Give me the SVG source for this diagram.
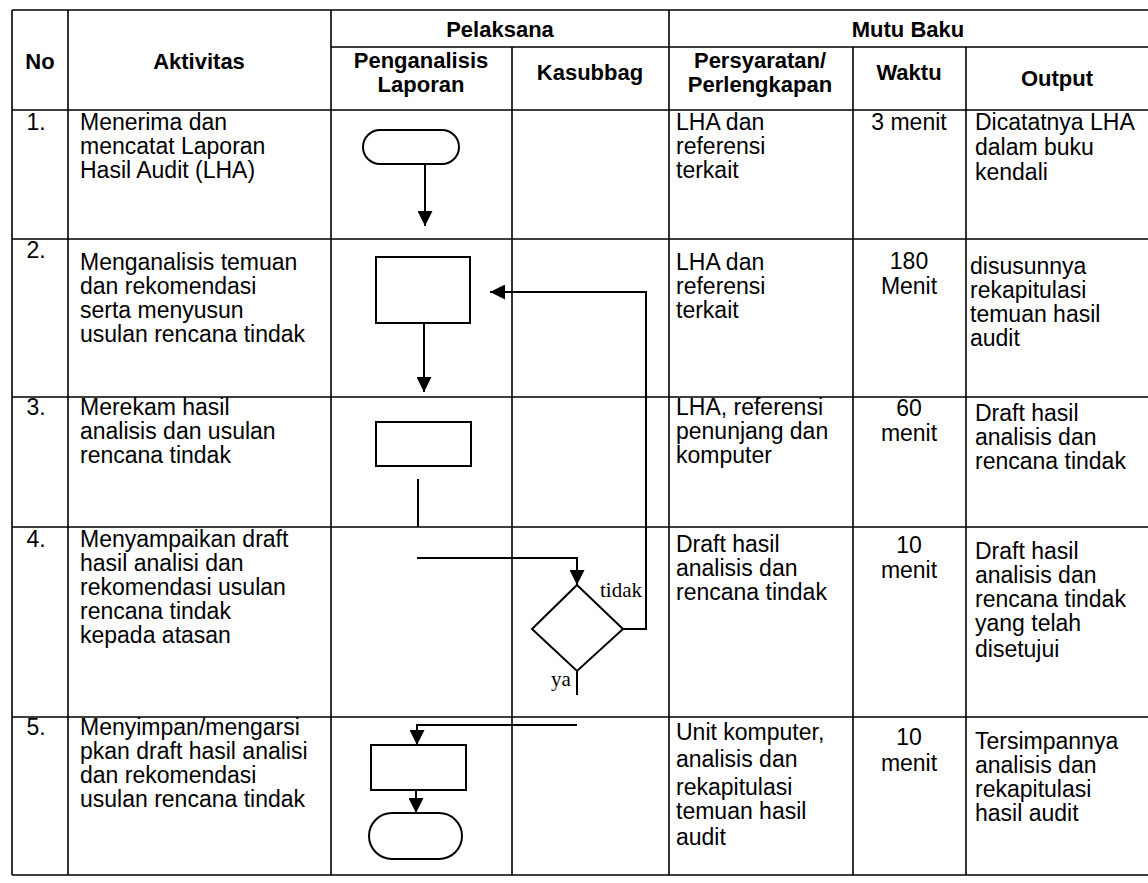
<svg xmlns="http://www.w3.org/2000/svg" width="1148" height="883" viewBox="0 0 1148 883">
<style>
.grid{stroke:#000;stroke-width:1.6;fill:none}
.shape{stroke:#000;stroke-width:2;fill:#fff}
.conn{stroke:#000;stroke-width:2;fill:none}
.h{font-family:"Liberation Sans",Arial,sans-serif;font-weight:bold;font-size:22px;fill:#000;text-anchor:middle}
.t{font-family:"Liberation Sans",Arial,sans-serif;font-size:23px;fill:#000}
.c{text-anchor:middle}
.s{font-family:"Liberation Serif","Times New Roman",serif;font-size:21px;fill:#000}
</style>
<defs>
<marker id="arr" viewBox="0 0 10 10" refX="10" refY="5" markerWidth="7.5" markerHeight="7.5" markerUnits="strokeWidth" orient="auto">
<path d="M0,0 L10,5 L0,10 Z" fill="#000"/>
</marker>
</defs>
<rect width="1148" height="883" fill="#fff"/>
<g id="table">
<path class="grid" d="M12,10 H1148 M331,47 H1148 M12,110 H1148 M12,239 H1148 M12,397 H1148 M12,527 H1148 M12,717 H1148 M12,875 H1148"/>
<path class="grid" d="M12,10 V875 M68,10 V875 M331,10 V875 M512,47 V875 M669,10 V875 M853,47 V875 M966,47 V875"/>
</g>
<g id="header">
<text class="h" x="40" y="69">No</text>
<text class="h" x="199" y="69">Aktivitas</text>
<text class="h" x="500" y="37">Pelaksana</text>
<text class="h" x="908" y="37">Mutu Baku</text>
<text class="h" x="421" y="68">Penganalisis</text>
<text class="h" x="421" y="92">Laporan</text>
<text class="h" x="590" y="80">Kasubbag</text>
<text class="h" x="760" y="68">Persyaratan/</text>
<text class="h" x="760" y="92">Perlengkapan</text>
<text class="h" x="909" y="80">Waktu</text>
<text class="h" x="1057" y="86">Output</text>
</g>
<g id="row1">
<text class="t c" x="36" y="130">1.</text>
<text class="t" x="80" y="130">Menerima dan</text>
<text class="t" x="80" y="154">mencatat Laporan</text>
<text class="t" x="80" y="178">Hasil Audit (LHA)</text>
<text class="t" x="676" y="130">LHA dan</text>
<text class="t" x="676" y="154">referensi</text>
<text class="t" x="676" y="178">terkait</text>
<text class="t c" x="909" y="130">3 menit</text>
<text class="t" x="975" y="130">Dicatatnya LHA</text>
<text class="t" x="975" y="155">dalam buku</text>
<text class="t" x="975" y="180">kendali</text>
</g>
<g id="row2">
<text class="t c" x="36" y="258">2.</text>
<text class="t" x="80" y="270">Menganalisis temuan</text>
<text class="t" x="80" y="294">dan rekomendasi</text>
<text class="t" x="80" y="318">serta menyusun</text>
<text class="t" x="80" y="342">usulan rencana tindak</text>
<text class="t" x="676" y="270">LHA dan</text>
<text class="t" x="676" y="294">referensi</text>
<text class="t" x="676" y="318">terkait</text>
<text class="t c" x="909" y="269">180</text>
<text class="t c" x="909" y="294">Menit</text>
<text class="t" x="970" y="274">disusunnya</text>
<text class="t" x="970" y="298">rekapitulasi</text>
<text class="t" x="970" y="322">temuan hasil</text>
<text class="t" x="970" y="346">audit</text>
</g>
<g id="row3">
<text class="t c" x="36" y="415">3.</text>
<text class="t" x="80" y="415">Merekam hasil</text>
<text class="t" x="80" y="439">analisis dan usulan</text>
<text class="t" x="80" y="463">rencana tindak</text>
<text class="t" x="676" y="415">LHA, referensi</text>
<text class="t" x="676" y="439">penunjang dan</text>
<text class="t" x="676" y="463">komputer</text>
<text class="t c" x="909" y="416">60</text>
<text class="t c" x="909" y="441">menit</text>
<text class="t" x="975" y="421">Draft hasil</text>
<text class="t" x="975" y="445">analisis dan</text>
<text class="t" x="975" y="469">rencana tindak</text>
</g>
<g id="row4">
<text class="t c" x="36" y="547">4.</text>
<text class="t" x="80" y="547">Menyampaikan draft</text>
<text class="t" x="80" y="571">hasil analisi dan</text>
<text class="t" x="80" y="595">rekomendasi usulan</text>
<text class="t" x="80" y="619">rencana tindak</text>
<text class="t" x="80" y="643">kepada atasan</text>
<text class="t" x="676" y="552">Draft hasil</text>
<text class="t" x="676" y="576">analisis dan</text>
<text class="t" x="676" y="600">rencana tindak</text>
<text class="t c" x="909" y="553">10</text>
<text class="t c" x="909" y="578">menit</text>
<text class="t" x="975" y="559">Draft hasil</text>
<text class="t" x="975" y="583">analisis dan</text>
<text class="t" x="975" y="607">rencana tindak</text>
<text class="t" x="975" y="631">yang telah</text>
<text class="t" x="975" y="657">disetujui</text>
</g>
<g id="row5">
<text class="t c" x="36" y="735">5.</text>
<text class="t" x="80" y="735">Menyimpan/mengarsi</text>
<text class="t" x="80" y="759">pkan draft hasil analisi</text>
<text class="t" x="80" y="783">dan rekomendasi</text>
<text class="t" x="80" y="807">usulan rencana tindak</text>
<text class="t" x="676" y="740">Unit komputer,</text>
<text class="t" x="676" y="767">analisis dan</text>
<text class="t" x="676" y="795">rekapitulasi</text>
<text class="t" x="676" y="819">temuan hasil</text>
<text class="t" x="676" y="845">audit</text>
<text class="t c" x="909" y="745">10</text>
<text class="t c" x="909" y="771">menit</text>
<text class="t" x="975" y="749">Tersimpannya</text>
<text class="t" x="975" y="773">analisis dan</text>
<text class="t" x="975" y="797">rekapitulasi</text>
<text class="t" x="975" y="821">hasil audit</text>
</g>
<g id="n1-start"><rect class="shape" x="363" y="130" width="96" height="34" rx="17"/></g>
<g id="n2-analyze"><rect class="shape" x="376" y="257" width="94" height="66"/></g>
<g id="n3-record"><rect class="shape" x="376" y="422" width="95" height="44"/></g>
<g id="n4-decision"><polygon class="shape" points="577,585 623,629 577,671 532,629"/>
<text class="s" x="600" y="597">tidak</text>
<text class="s" x="551" y="686">ya</text></g>
<g id="n5-store"><rect class="shape" x="371" y="745" width="95" height="45"/></g>
<g id="n6-end"><rect class="shape" x="369" y="813" width="93" height="46" rx="23"/></g>
<g id="connectors">
<path class="conn" d="M425,164 V226" marker-end="url(#arr)"/>
<path class="conn" d="M424,323 V392" marker-end="url(#arr)"/>
<path class="conn" d="M418,479 V527"/>
<path class="conn" d="M417,558 H577 V585" marker-end="url(#arr)"/>
<path class="conn" d="M623,629 H646 V292 H490" marker-end="url(#arr)"/>
<path class="conn" d="M577,671 V695"/>
<path class="conn" d="M577,725 H417 V745" marker-end="url(#arr)"/>
<path class="conn" d="M416,790 V813" marker-end="url(#arr)"/>
</g>
</svg>
